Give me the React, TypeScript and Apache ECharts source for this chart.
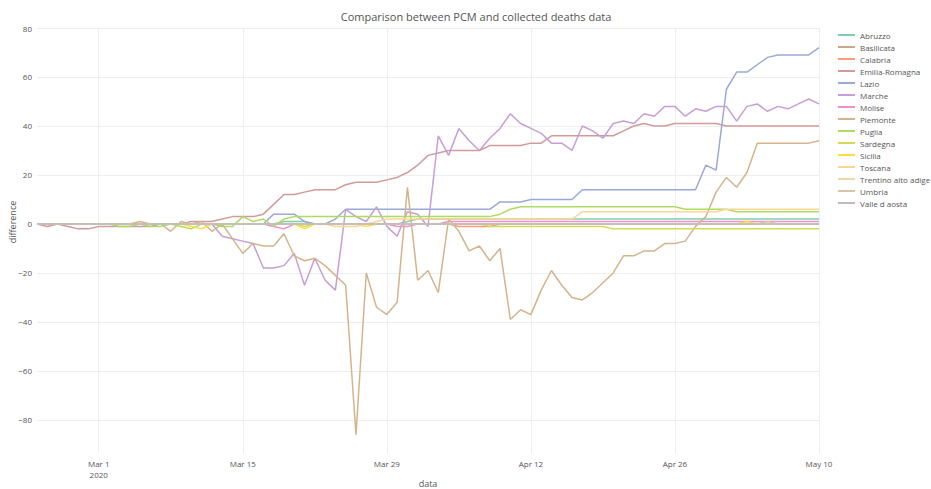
import React, { useEffect, useRef } from "react";
import * as echarts from "echarts";

const START = Date.UTC(2020, 1, 24);
const N_DAYS = 77;
const DATES: string[] = Array.from({ length: N_DAYS }, (_, i) =>
  new Date(START + i * 86400000).toISOString().slice(0, 10)
);
const TICK_LABELS: Record<number, string> = {
  6: "Mar 1\n2020",
  20: "Mar 15",
  34: "Mar 29",
  48: "Apr 12",
  62: "Apr 26",
  76: "May 10",
};

const REGIONS = [
  "Abruzzo", "Basilicata", "Calabria", "Emilia-Romagna", "Lazio", "Marche", "Molise",
  "Piemonte", "Puglia", "Sardegna", "Sicilia", "Toscana", "Trentino alto adige", "Umbria", "Valle d aosta",
];
const COLORS = [
  "#7fcfae", "#c8aa88", "#f99c7a", "#d39a9a", "#9aaad6", "#c79ed6", "#ef8fcf",
  "#d4b48c", "#aedc63", "#d6da52", "#ffdd40", "#fdd693", "#f4d4ad", "#d8c4a8", "#bdbdbd",
];

const Z10 = [0, 0, 0, 0, 0, 0, 0, 0, 0, 0];

const abruzzo = [
  ...Z10, ...Z10,
  0, 0, 0, 0, 1, 1, 1, 0, 0, 0,
  0, 0, 0, 0, 0, 0, 1, 2, 2, 2,
  2, 2, 2, 2, 2, 2, 2, 2, 2, 2,
  2, 2, 2, 2, 2, 2, 2, 2, 2, 2,
  2, 2, 2, 2, 2, 2, 2, 2, 2, 2,
  2, 2, 2, 2, 2, 2, 2,
];
const basilicata = [
  ...Z10, ...Z10, ...Z10, ...Z10, ...Z10, ...Z10, ...Z10,
  0, 0, 0, 0, 0, 0, 0,
];
const calabria = [
  ...Z10, ...Z10, ...Z10, ...Z10,
  0, -1, -1, -1, -1, 0, 0, 0, 0, 0,
  ...Z10, ...Z10,
  0, 0, 0, 0, 0, 0, 0,
];
const emiliaRomagna = [
  0, -1, 0, -1, -2, -2, -1, -1, -1, -1,
  -1, -1, 0, 0, 0, 1, 1, 1, 2, 3,
  3, 3, 4, 8, 12, 12, 13, 14, 14, 14,
  16, 17, 17, 17, 18, 19, 21, 24, 28, 29,
  30, 30, 30, 30, 32, 32, 32, 32, 33, 33,
  36, 36, 36, 36, 36, 36, 36, 38, 40, 41,
  40, 40, 41, 41, 41, 41, 41, 40, 40, 40,
  40, 40, 40, 40, 40, 40, 40,
];
const lazio = [
  ...Z10, ...Z10,
  0, 0, 0, 4, 4, 4, 1, 0, 0, 2,
  6, 6, 6, 6, 6, 6, 6, 6, 6, 6,
  6, 6, 6, 6, 6, 9, 9, 9, 10, 10,
  10, 10, 10, 14, 14, 14, 14, 14, 14, 14,
  14, 14, 14, 14, 14, 24, 22, 55, 62, 62,
  65, 68, 69, 69, 69, 69, 72,
];
const marche = [
  ...Z10,
  0, 0, 0, 0, 0, 0, 0, 0, -5, -6,
  -7, -8, -18, -18, -17, -12, -25, -14, -23, -27,
  6, 3, 1, 7, -1, -5, 5, 4, -1, 36,
  28, 39, 34, 30, 35, 39, 45, 41, 39, 37,
  33, 33, 30, 40, 38, 35, 41, 42, 41, 45,
  44, 48, 48, 44, 47, 46, 48, 48, 42, 48,
  49, 46, 48, 47, 49, 51, 49,
];
const molise = [
  ...Z10, ...Z10,
  0, 0, 0, -1, -2, 0, 0, 0, 0, 0,
  0, 0, 0, 0, 0, -1, -1, 0, 0, 0,
  1, 1, 1, 1, 1, 1, 1, 1, 1, 1,
  1, 1, 1, 1, 1, 1, 1, 1, 1, 1,
  1, 1, 1, 1, 1, 1, 1, 1, 1, 1,
  1, 1, 1, 1, 1, 1, 1,
];
const piemonte = [
  ...Z10,
  1, 0, 0, -3, 1, 0, 1, -3, 0, -6,
  -12, -8, -9, -9, -4, -13, -15, -14, -17, -21,
  -25, -86, -20, -34, -37, -32, 15, -23, -19, -28,
  2, -3, -11, -9, -15, -10, -39, -35, -37, -27,
  -19, -25, -30, -31, -28, -24, -20, -13, -13, -11,
  -11, -8, -8, -7, -1, 3, 13, 19, 15, 21,
  33, 33, 33, 33, 33, 33, 34,
];
const puglia = [
  0, 0, 0, 0, 0, 0, 0, 0, -1, -1,
  0, -1, -1, 0, -1, -2, 0, 0, -1, -1,
  3, 1, 2, -1, 2, 3, 3, 3, 3, 3,
  3, 3, 3, 3, 3, 3, 3, 3, 3, 3,
  3, 3, 3, 3, 3, 4, 6, 7, 7, 7,
  7, 7, 7, 7, 7, 7, 7, 7, 7, 7,
  7, 7, 7, 6, 6, 6, 6, 6, 5, 5,
  5, 5, 5, 5, 5, 5, 5,
];
const sardegna = [
  ...Z10, ...Z10,
  0, 0, 0, 0, 0, 0, -1, 0, 0, 0,
  ...Z10,
  0, 0, 0, 0, -1, -1, -1, -1, -1, -1,
  -1, -1, -1, -1, -1, -1, -2, -2, -2, -2,
  -2, -2, -2, -2, -2, -2, -2, -2, -2, -2,
  -2, -2, -2, -2, -2, -2, -2,
];
const sicilia = [
  ...Z10,
  0, 0, 0, 0, 0, -1, -2, 0, 0, 0,
  0, 0, 0, 0, 0, 0, -2, 0, 0, 0,
  0, 0, -1, 0, 0, 0, 0, 0, 0, 0,
  ...Z10, ...Z10,
  0, 0, 0, 0, 0, 0, 0, 0, 0, 1,
  0, 0, 0, 0, 0, 0, 0,
];
const toscana = [
  ...Z10, ...Z10,
  0, 0, 0, 0, 0, 0, 0, 0, 0, -1,
  -1, -1, 0, 1, 2, 2, 2, 2, 2, 2,
  2, 2, 2, 2, 2, 2, 2, 2, 2, 2,
  2, 2, 2, 5, 5, 5, 5, 5, 5, 5,
  5, 5, 5, 5, 5, 5, 5, 6, 6, 6,
  6, 6, 6, 6, 6, 6, 6,
];
const trentino = [
  ...Z10, ...Z10, ...Z10, ...Z10, ...Z10, ...Z10, ...Z10,
  0, 0, 0, 0, 0, 0, 0,
];
const umbria = [
  ...Z10, ...Z10, ...Z10, ...Z10, ...Z10, ...Z10, ...Z10,
  0, 1, 0, 0, 0, 0, 0,
];
const valleDaosta = [
  ...Z10, ...Z10, ...Z10, ...Z10, ...Z10, ...Z10, ...Z10,
  0, 0, 0, 0, 0, 0, 0,
];

const SERIES_VALUES = [
  abruzzo, basilicata, calabria, emiliaRomagna, lazio, marche, molise,
  piemonte, puglia, sardegna, sicilia, toscana, trentino, umbria, valleDaosta,
];

const FONT = "'Open Sans', 'Noto Sans', sans-serif";

export default function App() {
  const ref = useRef<HTMLDivElement>(null);
  useEffect(() => {
    if (!ref.current) return;
    const chart = echarts.init(ref.current, undefined, { renderer: "svg" });
    const showTick = (i: number) => TICK_LABELS[i] !== undefined;
    chart.setOption({
      animation: false,
      backgroundColor: "#ffffff",
      title: {
        text: "Comparison between PCM and collected deaths data",
        left: 471,
        textAlign: "center",
        top: 6,
        textStyle: { fontFamily: FONT, fontSize: 11, fontWeight: "normal", color: "#555" },
      },
      legend: {
        orient: "vertical",
        left: 838,
        top: 30,
        padding: 0,
        icon: "rect",
        itemWidth: 17,
        itemHeight: 2,
        itemGap: 2,
        textStyle: { fontFamily: FONT, fontSize: 8, color: "#555", lineHeight: 10 },
        data: REGIONS,
      },
      graphic: [
        {
          type: "text",
          x: 12,
          y: 222,
          rotation: Math.PI / 2,
          style: {
            text: "difference",
            fontFamily: FONT,
            fontSize: 9,
            fill: "#555",
            align: "center",
            verticalAlign: "middle",
          },
        },
        {
          type: "text",
          x: 428,
          y: 483,
          style: {
            text: "data",
            fontFamily: FONT,
            fontSize: 9,
            fill: "#555",
            align: "center",
            verticalAlign: "middle",
          },
        },
      ],
      grid: { left: 37, right: 112, top: 28, bottom: 36, containLabel: false, outerBoundsMode: "none" },
      xAxis: {
        type: "category",
        data: DATES,
        boundaryGap: false,
        axisLine: { show: false },
        axisTick: { show: false },
        axisLabel: {
          interval: (i: number) => showTick(i),
          formatter: (_v: string, i: number) => TICK_LABELS[i] ?? "",
          fontFamily: FONT,
          fontSize: 8,
          color: "#555",
          lineHeight: 11,
          margin: 5,
          showMaxLabel: true,
        },
        splitLine: {
          show: true,
          interval: (i: number) => showTick(i),
          lineStyle: { color: "#eceef1", width: 1 },
        },
      },
      yAxis: {
        type: "value",
        min: -93.5,
        max: 80,
        splitNumber: 8,
        axisLine: { show: false },
        axisTick: { show: false },
        axisLabel: {
          fontFamily: FONT,
          fontSize: 8,
          color: "#555",
          margin: 5,
          formatter: (v: number) =>
            Math.abs(v % 20) < 1e-9 ? (v < 0 ? "\u2212" + Math.abs(v) : String(v)) : "",
        },
        splitLine: { show: true, showMinLine: false, lineStyle: { color: "#eceef1", width: 1 } },
      },
      series: REGIONS.map((name, k) => ({
        name,
        type: "line",
        data: SERIES_VALUES[k],
        symbol: "none",
        color: COLORS[k],
        lineStyle: { width: 1.5, color: COLORS[k] },
        emphasis: { disabled: true },
      })),
    });
    return () => chart.dispose();
  }, []);
  return <div ref={ref} style={{ width: 931, height: 489, position: "absolute", left: 0, top: 0 }} />;
}
